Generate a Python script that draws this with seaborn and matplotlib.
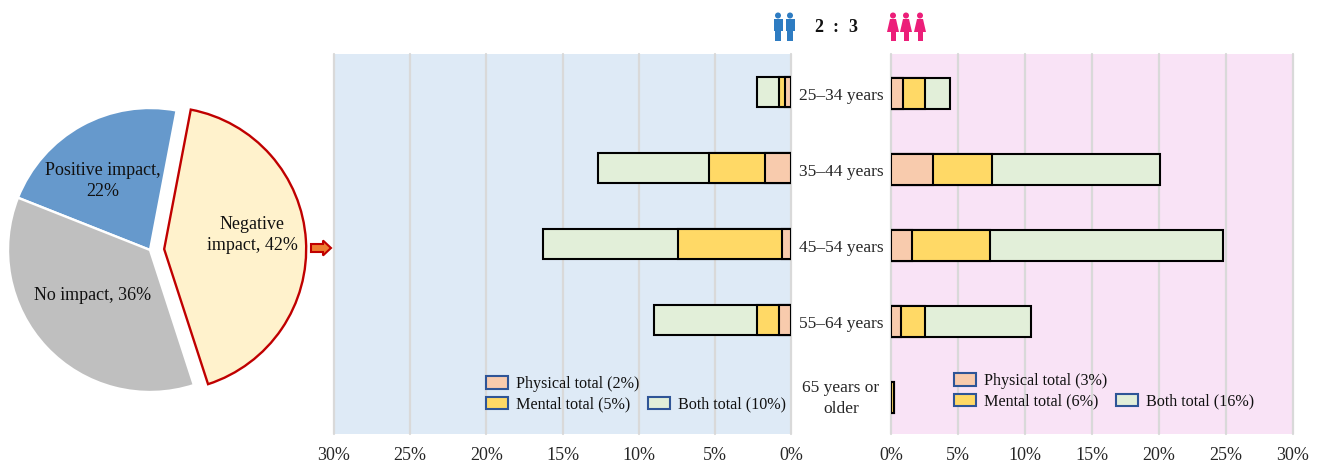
import numpy as np
import matplotlib
matplotlib.use('Agg')
import matplotlib.pyplot as plt
from matplotlib.patches import Patch, Circle, Rectangle, Polygon, FancyArrow
from matplotlib.transforms import ScaledTranslation
import seaborn as sns

# pie
pie_labels = ['Negative impact', 'Positive impact', 'No impact']
pie_values = [42, 22, 36]

# bars
ages = ['25–34 years', '35–44 years', '45–54 years', '55–64 years', '65 years or\nolder']
male_physical = [0.4, 1.7, 0.6, 0.8, np.nan]
male_mental = [0.4, 3.7, 6.8, 1.4, np.nan]
male_both = [1.4, 7.3, 8.9, 6.8, np.nan]
female_physical = [0.9, 3.1, 1.6, 0.75, 0.0]
female_mental = [1.6, 4.4, 5.8, 1.8, 0.2]
female_both = [1.9, 12.6, 17.4, 7.9, 0.0]
ticks = [0, 5, 10, 15, 20, 25, 30]
male_legend = ['Physical total (2%)', 'Mental total (5%)', 'Both total (10%)']
female_legend = ['Physical total (3%)', 'Mental total (6%)', 'Both total (16%)']

sns.set_theme(style='white')
plt.rcParams['font.family'] = ['Liberation Serif', 'DejaVu Sans']
plt.rcParams['text.color'] = '#111111'

W, H = 1320, 466
c_phys, c_ment, c_both = '#f8cbad', '#ffd966', '#e2efd9'
fig = plt.figure(figsize=(W / 100, H / 100), dpi=100)


def px_axes(x0, y0, x1, y1):
    return fig.add_axes([x0 / W, 1 - y1 / H, (x1 - x0) / W, (y1 - y0) / H])


#pie, centre (150,250) radius 142 in pixels
ax_pie = px_axes(0, 90, 320, 410)
wedges, _ = ax_pie.pie(pie_values, startangle=-72, explode=[0.1, 0, 0], radius=1,
                       colors=['#fff2cc', '#6699cc', '#bfbfbf'],
                       wedgeprops=dict(edgecolor='white', linewidth=1.7))
wedges[0].set_edgecolor('#c00000')
ax_pie.set_xlim(-150 / 142, 170 / 142)
ax_pie.set_ylim(-160 / 142, 160 / 142)


def stacked(ax, phys, ment, both):
    phys, ment, both = np.array(phys), np.array(ment), np.array(both)
    # widest first, the shorter ones are drawn on top
    for vals, col in [(phys + ment + both, c_both), (phys + ment, c_ment), (phys, c_phys)]:
        sns.barplot(x=vals, y=ages, order=ages, orient='h', color=col, saturation=1, width=0.4,
                    edgecolor='black', linewidth=1.5, errorbar=None, ax=ax)
    ax.set_ylim(4.5, -0.5)
    ax.set_xticks(ticks)
    ax.set_xticklabels([str(t) + '%' for t in ticks], fontsize=13)
    ax.tick_params(axis='x', length=0, pad=9)
    ax.set_axisbelow(True)
    ax.xaxis.grid(True, color='#d9d9d9', linewidth=1.6)
    for g in ax.get_xgridlines():
        g.set_clip_on(False)
    ax.set_xlabel('')
    ax.set_ylabel('')
    sns.despine(ax=ax, left=True, bottom=True)


def legend(ax, labels, x, y):
    handles = [Patch(fc=c_phys, ec='#2f5597', lw=1.5), Patch(fc=c_ment, ec='#2f5597', lw=1.5),
               Patch(visible=False), Patch(fc=c_both, ec='#2f5597', lw=1.5)]
    ax.legend(handles, [labels[0], labels[1], '', labels[2]], ncol=2, frameon=False, fontsize=11.6,
              loc='upper left', bbox_to_anchor=(x / W, 1 - y / H), bbox_transform=fig.transFigure,
              borderpad=0, borderaxespad=0, handlelength=1.35, handleheight=0.8, handletextpad=0.5,
              labelspacing=0.3, columnspacing=0.55)


ax_m = px_axes(334, 54, 791, 434)
ax_m.set_facecolor('#deeaf6')
stacked(ax_m, male_physical, male_mental, male_both)
ax_m.set_xlim(30, 0)
ax_m.set_yticks([])
legend(ax_m, male_legend, 486, 376)

ax_f = px_axes(891, 54, 1293, 434)
ax_f.set_facecolor('#f9e3f6')
stacked(ax_f, female_physical, female_mental, female_both)
ax_f.set_xlim(0, 30)
ax_f.set_ylim(4.48, -0.52)  # right bars sit a little lower
ax_f.set_yticks(range(len(ages)))
ax_f.set_yticklabels(ages, fontsize=12.5, ha='center', linespacing=1.4)
ax_f.tick_params(axis='y', length=0, pad=36)
for lab in ax_f.get_yticklabels():
    dy = 2.4 if 'older' in lab.get_text() else -0.6  # two line label sits higher
    lab.set_transform(lab.get_transform() + ScaledTranslation(0, dy / 72, fig.dpi_scale_trans))
legend(ax_f, female_legend, 954, 373)

#overlay in pixel coordinates for the text and icons
ov = fig.add_axes([0, 0, 1, 1], zorder=10)
ov.set_xlim(0, W)
ov.set_ylim(H, 0)
ov.axis('off')
ov.patch.set_alpha(0)

ov.text(103, 181, 'Positive impact,\n22%', ha='center', va='center', fontsize=13, linespacing=1.3)
ov.text(93, 296, 'No impact, 36%', ha='center', va='center', fontsize=13)
ov.text(252, 235, 'Negative\nimpact, 42%', ha='center', va='center', fontsize=13, linespacing=1.3)
ov.text(819, 27, '2', ha='center', va='center', fontsize=13, fontweight='bold')
ov.text(836, 27, ':', ha='center', va='center', fontsize=13, fontweight='bold')
ov.text(853, 27, '3', ha='center', va='center', fontsize=13, fontweight='bold')

ov.add_patch(FancyArrow(311, 248, 20, 0, width=8, head_width=15, head_length=8, length_includes_head=True,
                        fc='#ed7d31', ec='#c00000', lw=1.5))

for cx in [778, 790]:
    col = '#2e7cc2'
    ov.add_patch(Circle((cx, 15.5), 3, color=col, lw=0))
    ov.add_patch(Rectangle((cx - 4.5, 19), 9, 12, color=col, lw=0))
    ov.add_patch(Rectangle((cx - 3, 30), 6, 11, color=col, lw=0))

for cx in [893, 906, 920]:
    col = '#ec1e79'
    ov.add_patch(Circle((cx, 15.5), 3, color=col, lw=0))
    ov.add_patch(Polygon([(cx - 3, 19), (cx + 3, 19), (cx + 6, 32), (cx - 6, 32)], color=col, lw=0))
    ov.add_patch(Rectangle((cx - 2.5, 31), 5, 10, color=col, lw=0))

fig.savefig('out.png', dpi=100)
